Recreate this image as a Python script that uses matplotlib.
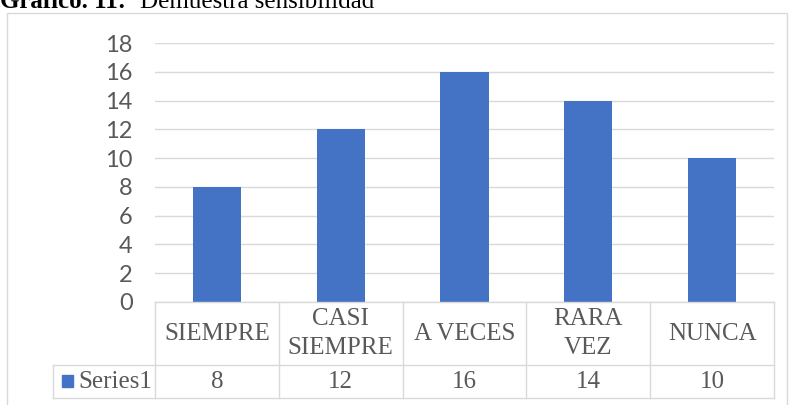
import matplotlib.pyplot as plt
from matplotlib.patches import Rectangle

categories = ["SIEMPRE", "CASI\nSIEMPRE", "A VECES", "RARA\nVEZ", "NUNCA"]
values = [8, 12, 16, 14, 10]
series_name = "Series1"
yticks = [0, 2, 4, 6, 8, 10, 12, 14, 16, 18]

W, H = 789, 405
BLUE = "#4472C4"
GRID = "#D9D9D9"
TXT = "#595959"
serif = "Liberation Serif"

fig = plt.figure(figsize=(W / 100, H / 100), dpi=100)

# chart frame
fig.add_artist(Rectangle((7 / W, -0.05), (787 - 7) / W, 1.05 - 13 / H,
                         transform=fig.transFigure, fill=False,
                         edgecolor=GRID, lw=1))

# title (clipped at the top like the source)
fig.text(0, 1 - 8 / H, "Gráfico. 11:", family=serif, weight="bold",
         fontsize=18, va="baseline", ha="left")
fig.text(140 / W, 1 - 8 / H, "Demuestra sensibilidad", family=serif,
         fontsize=18, va="baseline", ha="left")

# columns
ax = fig.add_axes([155 / W, 1 - 302 / H, (774 - 155) / W, (302 - 43) / H])
x = range(len(values))
ax.bar(x, values, width=0.39, color=BLUE, zorder=3)
ax.set_xlim(-0.5, len(values) - 0.5)
ax.set_ylim(0, 18)
ax.set_yticks(yticks)
ax.set_xticks([])
ax.grid(axis="y", color=GRID, lw=1, zorder=0)
for s in ax.spines.values():
    s.set_visible(False)
ax.tick_params(axis="y", length=0, pad=16, labelsize=17, labelcolor=TXT)
for lab in ax.get_yticklabels():
    lab.set_family("Lato")

# data table
leg_w = 102 / 124
tab = fig.add_axes([53 / W, 1 - 398 / H, (774 - 53) / W, (398 - 302) / H])
tab.set_xlim(-0.5 - leg_w, len(values) - 0.5)
tab.set_ylim(0, 96)
tab.axis("off")
lk = dict(color=GRID, lw=1, clip_on=False)
tab.plot([-0.5, len(values) - 0.5], [96, 96], **lk)
tab.plot([-0.5 - leg_w, len(values) - 0.5], [33, 33], **lk)
tab.plot([-0.5 - leg_w, len(values) - 0.5], [0, 0], **lk)
tab.plot([-0.5 - leg_w, -0.5 - leg_w], [0, 33], **lk)
for i in range(len(values) + 1):
    tab.plot([i - 0.5, i - 0.5], [0, 96], **lk)
for i, (c, v) in enumerate(zip(categories, values)):
    tab.text(i, 64.5, c, ha="center", va="center", family=serif,
             fontsize=18, color=TXT, linespacing=1.4)
    tab.text(i, 16.5, str(v), ha="center", va="center", family=serif,
             fontsize=18, color=TXT)
tab.add_patch(Rectangle((-0.5 - leg_w + 9 / 124, 11), 11 / 124, 12,
                        color=BLUE, clip_on=False))
tab.text(-0.5 - leg_w + 25 / 124, 16.5, series_name, ha="left", va="center",
         family=serif, fontsize=18, color=TXT)

fig.savefig("out.png", dpi=100)
